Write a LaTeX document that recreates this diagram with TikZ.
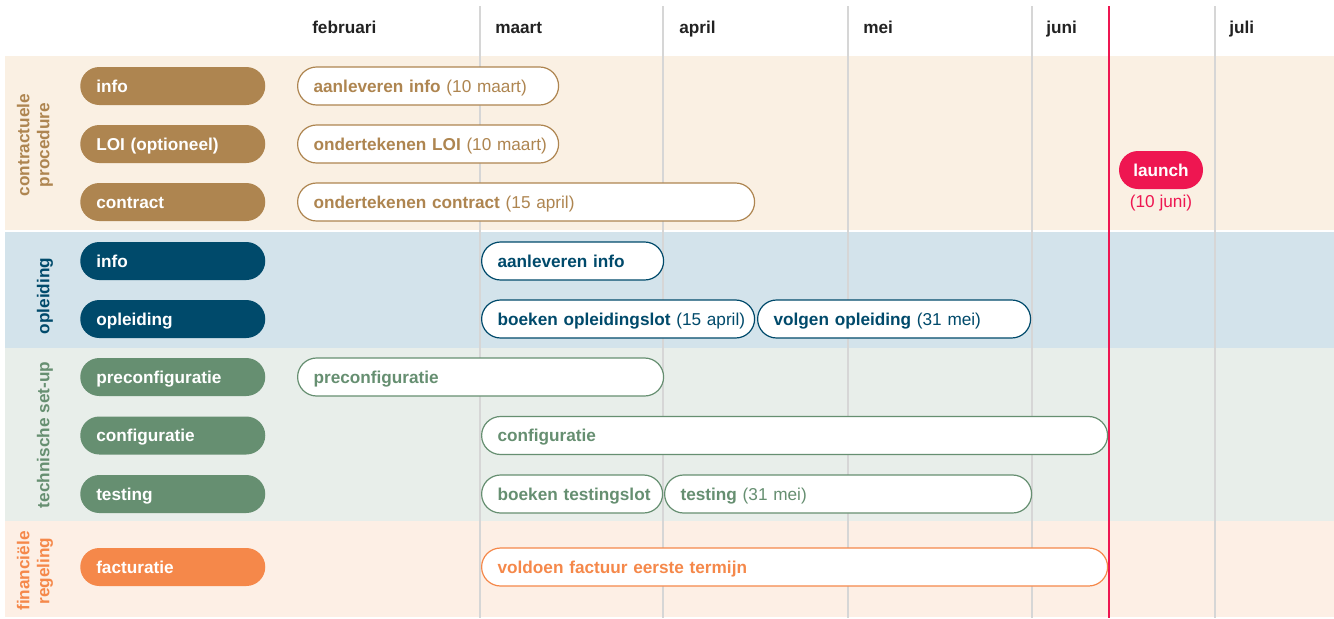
\documentclass[tikz,border=0pt]{standalone}
\usepackage{fontspec}
\setmainfont{Liberation Sans}
\usetikzlibrary{positioning}

\definecolor{bruin}{HTML}{AE8550}
\definecolor{blauw}{HTML}{004A6B}
\definecolor{groen}{HTML}{668F71}
\definecolor{oranje}{HTML}{F5884A}
\definecolor{rood}{HTML}{EE1651}
\definecolor{bruinbg}{HTML}{FAF0E3}
\definecolor{blauwbg}{HTML}{D3E3EB}
\definecolor{groenbg}{HTML}{E8EEEA}
\definecolor{oranjebg}{HTML}{FDEFE5}
\definecolor{rooster}{HTML}{D6D6D6}
\definecolor{kop}{HTML}{222222}

\begin{document}
\begin{tikzpicture}[x=0.75pt,y=-0.75pt,font=\fontsize{12.9}{15}\selectfont,
	catpill/.style={fill=#1,text=white,font=\fontsize{12.9}{15}\selectfont\bfseries,
		rounded corners=14.25pt,minimum height=28.5pt,text width=114.75pt,
		inner xsep=12pt,inner ysep=0pt,text height=9.4pt,text depth=0pt,anchor=west},
	taskpill/.style={draw=#1,fill=white,text=#1,line width=0.9pt,
		rounded corners=14.25pt,minimum height=28.5pt,
		inner xsep=12pt,inner ysep=0pt,text height=9.4pt,text depth=0pt,anchor=west},
	groep/.style={text=#1,font=\fontsize{12.9}{15}\selectfont\bfseries,rotate=90,align=center},
	maand/.style={text=kop,font=\fontsize{12.9}{15}\selectfont\bfseries,anchor=base west,inner sep=0pt},
	grid/.style={rooster,line width=0.9pt}]

	% Frame
	\useasboundingbox (0,0) rectangle (1334,618);

	% Bands
	\fill[bruinbg] (5,56) rectangle (1334,230);
	\fill[blauwbg] (5,232) rectangle (1334,347.5);
	\fill[groenbg] (5,347.5) rectangle (1334,520.5);
	\fill[oranjebg] (5,520.5) rectangle (1334,617);

	% Month lines
	\foreach \xx in {480,663,848,1032,1215}
		\draw[grid] (\xx,6) -- (\xx,618);
	\draw[rood,line width=1pt] (1109,6) -- (1109,618);

	% Month names
	\foreach \name/\xx/\txt in {feb/312/februari,mrt/495/maart,apr/679/april,mei/863/mei,jun/1046/juni,jul/1229/juli}
		\node[maand] (\name) at (\xx,33) {\txt};

	% Group labels
	\node[groep=bruin] (gcontract) at (35,145) {contractuele\\procedure};
	\node[groep=blauw] (gopleiding) at (45,296) {opleiding};
	\node[groep=groen] (gtechniek) at (45,435) {technische set-up};
	\node[groep=oranje] (gfinancieel) at (35,571) {financiële\\regeling};

	% Category pills
	\node[catpill=bruin] (cinfo) at (80,86) {info};
	\node[catpill=bruin] (cloi) at (80,144) {LOI (optioneel)};
	\node[catpill=bruin] (ccontract) at (80,202) {contract};
	\node[catpill=blauw] (cinfob) at (80,261) {info};
	\node[catpill=blauw] (copleiding) at (80,319) {opleiding};
	\node[catpill=groen] (cpreconf) at (80,377) {preconfiguratie};
	\node[catpill=groen] (cconf) at (80,435.5) {configuratie};
	\node[catpill=groen] (ctesting) at (80,494) {testing};
	\node[catpill=oranje] (cfactuur) at (80,567) {facturatie};

	% Tasks
	\foreach \name/\xa/\xb/\yy/\col/\txt in {
		tinfo/297/558/86/bruin/{\textbf{aanleveren info} (10 maart)},
		tloi/297/558/144/bruin/{\textbf{ondertekenen LOI} (10 maart)},
		tcontract/297/754/202/bruin/{\textbf{ondertekenen contract} (15 april)},
		tinfob/481/663/261/blauw/{\textbf{aanleveren info}},
		tslot/481/754/319/blauw/{\textbf{boeken opleidingslot} (15 april)},
		tvolgen/757/1030/319/blauw/{\textbf{volgen opleiding} (31 mei)},
		tpreconf/297/663/377/groen/{\textbf{preconfiguratie}},
		tconf/481/1107/435.5/groen/{\textbf{configuratie}},
		ttestslot/481/662/494/groen/{\textbf{boeken testingslot}},
		ttesting/664/1031/494/groen/{\textbf{testing} (31 mei)},
		tfactuur/481/1107/567/oranje/{\textbf{voldoen factuur eerste termijn}}}
	{
		\pgfmathsetmacro\tw{(\xb-\xa)*0.75-24}
		\node[taskpill=\col,text width=\tw pt] (\name) at (\xa,\yy) {\mbox{\txt}};
	}

	% Launch
	\node[fill=rood,text=white,font=\fontsize{12.9}{15}\selectfont\bfseries,rounded corners=14.25pt,
		minimum height=28.5pt,minimum width=63pt,inner ysep=0pt,text height=9.4pt,text depth=0pt] (launch) at (1161,170) {launch};
	\node[text=rood,below=1pt of launch] (launchdate) {(10 juni)};
\end{tikzpicture}
\end{document}
